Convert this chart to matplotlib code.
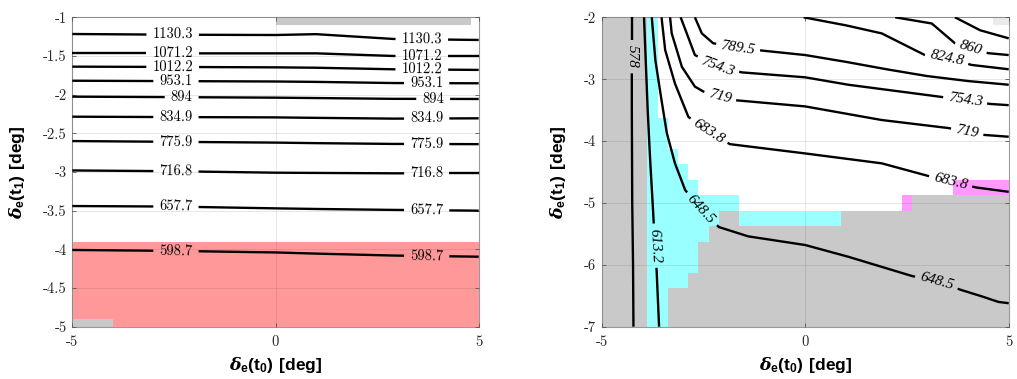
import numpy as np
import matplotlib
matplotlib.use('Agg')
import matplotlib.pyplot as plt
from matplotlib.colors import ListedColormap, BoundaryNorm

plt.rcParams['axes.unicode_minus'] = False
plt.rcParams['mathtext.fontset'] = 'custom'
plt.rcParams['mathtext.rm'] = 'Liberation Sans:bold'
plt.rcParams['mathtext.bf'] = 'Liberation Sans:bold'
plt.rcParams['mathtext.it'] = 'DejaVu Serif:italic:bold'

# ----------------------------- data: left panel -----------------------------
L_xlim = (-5, 5)
L_ylim = (-5, -1)
L_xticks = [-5, 0, 5]
L_xticklabels = ['-5', '0', '5']
L_yticks = [-5, -4.5, -4, -3.5, -3, -2.5, -2, -1.5, -1]
L_yticklabels = ['-5', '-4.5', '-4', '-3.5', '-3', '-2.5', '-2', '-1.5', '-1']

L_levels = ['598.7', '657.7', '716.8', '775.9', '834.9', '894', '953.1',
            '1012.2', '1071.2', '1130.3']
L_line_x = [-5, -2.5, 0, 1.0, 2.9, 5]
L_line_y = [
    [-4.008, -4.02, -4.04, -4.055, -4.08, -4.095],
    [-3.44, -3.447, -3.47, -3.478, -3.49, -3.50],
    [-2.98, -2.99, -3.009, -3.012, -3.017, -3.017],
    [-2.60, -2.61, -2.62, -2.627, -2.637, -2.64],
    [-2.285, -2.29, -2.294, -2.30, -2.31, -2.306],
    [-2.026, -2.032, -2.039, -2.044, -2.054, -2.056],
    [-1.82, -1.825, -1.83, -1.835, -1.85, -1.853],
    [-1.638, -1.642, -1.647, -1.652, -1.672, -1.68],
    [-1.466, -1.466, -1.466, -1.466, -1.50, -1.50],
    [-1.216, -1.225, -1.229, -1.218, -1.28, -1.293],
]
L_label_x = [
    [-2.45, 3.72], [-2.45, 3.72], [-2.45, 3.72], [-2.45, 3.72], [-2.45, 3.72],
    [-2.31, 3.88], [-2.45, 3.72], [-2.53, 3.60], [-2.53, 3.60], [-2.53, 3.60],
]
# shaded regions (x0, x1, y0, y1)
L_red_region = (-5, 5, -5, -3.9)
L_gray_regions = [(0.0, 4.82, -1.1, -1.0), (-5.0, -4.0, -5.0, -4.9)]

# ----------------------------- data: right panel ----------------------------
R_xlim = (-5, 5)
R_ylim = (-7, -2)
R_xticks = [-5, 0, 5]
R_xticklabels = ['-5', '0', '5']
R_yticks = [-7, -6, -5, -4, -3, -2]
R_yticklabels = ['-7', '-6', '-5', '-4', '-3', '-2']

# cell map: x centres -5..5 step 0.25, y centres -2..-7 step 0.25 (top row first)
R_cell_x = np.arange(-5, 5.001, 0.25)
R_cell_y = np.arange(-2, -7.001, -0.25)
R_cell_rows = [
    "g5 c1 .33 l2",
    "g5 c1 .35", "g5 c1 .35", "g5 c1 .35", "g5 c1 .35", "g5 c1 .35", "g5 c1 .35",
    "g5 c2 .34", "g5 c2 .34",
    "g5 c3 .33",
    "g5 c4 .32",
    "g5 c5 .25 m6",
    "g5 c9 .16 m1 g10",
    "g5 c7 g2 c10 g17",
    "g5 c6 g30",
    "g5 c5 g31", "g5 c5 g31",
    "g5 c4 g32",
    "g5 c2 g34", "g5 c2 g34", "g5 c2 g34",
]
R_cell_codes = {'g': 0, 'c': 1, 'm': 2, 'l': 3}
R_cell_colors = ['#c9c9c9', '#99ffff', '#ff99ff', '#ebebeb']

R_levels = ['578', '613.2', '648.5', '683.8', '719', '754.3', '789.5',
            '824.8', '860', '895.3']
R_line_x = [
    [-4.26, -4.26, -4.25, -4.23, -4.22],
    [-3.96, -3.87, -3.81, -3.74, -3.70, -3.65, -3.59],
    [-3.77, -3.68, -3.53, -3.40, -3.20, -2.95, -2.56, -2.12, -1.40, 0.0, 1.06,
     2.62, 3.23, 3.85, 4.34, 4.75, 5.0],
    [-3.53, -3.44, -3.20, -2.87, -2.38, -1.85, 0.0, 1.88, 3.0, 3.57, 4.20, 5.0],
    [-3.32, -3.28, -3.03, -2.71, -2.50, -2.09, -1.72, 0.0, 1.88, 3.52, 3.98,
     4.38, 5.0],
    [-3.06, -2.91, -2.71, -2.15, -1.56, 0.0, 1.06, 3.27, 3.93, 4.54, 5.0],
    [-2.71, -2.54, -2.26, -1.65, -1.03, 0.0, 1.0, 2.0, 3.0, 4.0, 5.0],
    [-0.04, 1.0, 1.88, 2.94, 3.48, 4.09, 5.0],
    [2.21, 3.11, 3.68, 4.07, 4.50, 5.0],
    [3.68, 4.30, 5.0],
]
R_line_y = [
    [-2, -3.5, -5, -6, -7],
    [-2, -3.5, -4.3, -5.1, -5.6, -6.1, -7],
    [-2, -2.7, -3.34, -3.87, -4.36, -4.79, -5.11, -5.39, -5.54, -5.68, -5.87,
     -6.18, -6.27, -6.41, -6.51, -6.60, -6.62],
    [-2, -2.53, -3.07, -3.61, -3.85, -4.05, -4.20, -4.36, -4.56, -4.66, -4.75,
     -4.82],
    [-2, -2.26, -2.80, -3.12, -3.20, -3.28, -3.34, -3.44, -3.66, -3.79, -3.85,
     -3.90, -3.93],
    [-2, -2.26, -2.61, -2.79, -2.89, -2.97, -3.09, -3.28, -3.34, -3.40, -3.42],
    [-2, -2.26, -2.42, -2.49, -2.54, -2.61, -2.72, -2.84, -2.95, -3.03, -3.09],
    [-2, -2.13, -2.26, -2.61, -2.66, -2.77, -2.84],
    [-2, -2.10, -2.42, -2.50, -2.58, -2.61],
    [-2, -2.21, -2.34],
]
R_label_pts = [
    [(-4.26, -2.64)],
    [(-3.68, -5.69)],
    [(-2.56, -5.11), (3.23, -6.27)],
    [(-2.38, -3.85), (3.57, -4.66)],
    [(-2.09, -3.28), (3.98, -3.85)],
    [(-2.15, -2.79), (3.93, -3.34)],
    [(-1.65, -2.49)],
    [(3.48, -2.66)],
    [(4.07, -2.50)],
    [],
]

XLABEL = r'$\delta_{\mathbf{e}}\mathbf{(t_0)\ [deg]}$'
L_YLABEL = r'$\delta_{\mathbf{e}}\mathbf{(t_1)\ [deg]}$'
R_YLABEL = r'$\delta_{\mathbf{e}}\mathbf{(t_1)\ [deg]}$'

# ----------------------------- drawing helpers ------------------------------
TICK_COLOR = '#262626'
FRAME_COLOR = '#9a9a9a'


def style_axes(ax, xlim, ylim, xt, xtl, yt, ytl):
    ax.set_xlim(*xlim)
    ax.set_ylim(*ylim)
    ax.set_xticks(xt, xtl, fontfamily='cmr10', fontsize=10.5, color=TICK_COLOR)
    ax.set_yticks(yt, ytl, fontfamily='cmr10', fontsize=10.5, color=TICK_COLOR)
    ax.tick_params(direction='in', length=3, width=0.6, color='#555555',
                   top=True, right=True)
    ax.tick_params(axis='x', pad=6)
    ax.tick_params(axis='y', pad=4)
    for sp in ax.spines.values():
        sp.set_color(FRAME_COLOR)
        sp.set_linewidth(0.8)
    ax.grid(True, color='#262626', alpha=0.13, lw=0.6)
    ax.set_axisbelow(False)


def labeled_line(ax, xs, ys, label_pts, text, font, pad=5.0):
    renderer = ax.figure.canvas.get_renderer()
    P = ax.transData.transform(np.column_stack([xs, ys]))
    seg = np.diff(P, axis=0)
    seglen = np.hypot(seg[:, 0], seg[:, 1])
    s = np.concatenate([[0.0], np.cumsum(seglen)])
    total = s[-1]

    def point_at(sv):
        sv = min(max(sv, 0.0), total)
        k = int(np.clip(np.searchsorted(s, sv) - 1, 0, len(seg) - 1))
        t = (sv - s[k]) / seglen[k] if seglen[k] > 0 else 0.0
        return P[k] + t * seg[k]

    gaps = []
    for (lx, ly) in label_pts:
        q = ax.transData.transform((lx, ly))
        best = None
        for i in range(len(seg)):
            d = seg[i]
            L2 = seglen[i] ** 2
            t = np.clip(np.dot(q - P[i], d) / L2, 0, 1) if L2 > 0 else 0.0
            proj = P[i] + t * d
            dist = np.hypot(*(q - proj))
            if best is None or dist < best[0]:
                best = (dist, i, t, proj)
        _, i, t, proj = best
        s0 = s[i] + t * seglen[i]
        pos = ax.transData.inverted().transform(proj)
        txt = ax.text(pos[0], pos[1], text, ha='center', va='center',
                      rotation_mode='anchor', zorder=5, **font)
        w = txt.get_window_extent(renderer).width
        p1 = point_at(s0 - w / 2)
        p2 = point_at(s0 + w / 2)
        ang = np.degrees(np.arctan2(p2[1] - p1[1], p2[0] - p1[0]))
        if ang > 89.5:
            ang -= 180
        if ang <= -90.5:
            ang += 180
        txt.set_rotation(ang)
        gaps.append((s0 - w / 2 - pad, s0 + w / 2 + pad))

    gaps.sort()
    intervals = []
    start = 0.0
    for a, b in gaps:
        if a > start:
            intervals.append((start, a))
        start = max(start, b)
    if start < total:
        intervals.append((start, total))
    inv = ax.transData.inverted()
    for a, b in intervals:
        pts = [point_at(a)] + [P[k] for k in range(len(s)) if a < s[k] < b] + [point_at(b)]
        D = inv.transform(np.array(pts))
        ax.plot(D[:, 0], D[:, 1], color='black', lw=1.7, zorder=4,
                solid_capstyle='butt')


# ----------------------------- figure ---------------------------------------
fig = plt.figure(figsize=(10.17, 3.79), dpi=100)
axL = fig.add_axes([72.3 / 1017, 52.3 / 379, 406.4 / 1017, 309.4 / 379])
axR = fig.add_axes([601.7 / 1017, 52.3 / 379, 407.0 / 1017, 309.4 / 379])

style_axes(axL, L_xlim, L_ylim, L_xticks, L_xticklabels, L_yticks, L_yticklabels)
style_axes(axR, R_xlim, R_ylim, R_xticks, R_xticklabels, R_yticks, R_yticklabels)

# left panel regions
x0, x1, y0, y1 = L_red_region
axL.fill([x0, x1, x1, x0], [y0, y0, y1, y1], color='#ff9999', lw=0, zorder=0.5)
for (x0, x1, y0, y1) in L_gray_regions:
    axL.fill([x0, x1, x1, x0], [y0, y0, y1, y1], color='#c9c9c9', lw=0, zorder=0.6)

font_left = dict(fontfamily='cmr10', fontsize=10.5, color='black')
for lev, ys, lxs in zip(L_levels, L_line_y, L_label_x):
    pts = [(lx, np.interp(lx, L_line_x, ys)) for lx in lxs]
    labeled_line(axL, L_line_x, ys, pts, lev, font_left, pad=6)

# right panel cell map
grid = np.full((len(R_cell_y), len(R_cell_x)), np.nan)
for j, row in enumerate(R_cell_rows):
    i = 0
    for tok in row.split():
        code, n = tok[0], int(tok[1:])
        if code in R_cell_codes:
            grid[j, i:i + n] = R_cell_codes[code]
        i += n
    assert i == len(R_cell_x)
cmap = ListedColormap(R_cell_colors)
norm = BoundaryNorm([-0.5, 0.5, 1.5, 2.5, 3.5], cmap.N)
axR.pcolormesh(R_cell_x, R_cell_y, np.ma.masked_invalid(grid), cmap=cmap,
               norm=norm, shading='nearest', zorder=0.5)

font_right = dict(fontfamily='Liberation Serif', fontstyle='italic',
                  fontsize=11, color='black')
for lev, xs, ys, lp in zip(R_levels, R_line_x, R_line_y, R_label_pts):
    labeled_line(axR, xs, ys, lp, lev, font_right, pad=5)

# axis labels
for ax, yl in ((axL, L_YLABEL), (axR, R_YLABEL)):
    ax.set_xlabel(XLABEL, fontsize=12.5, color='black')
    ax.xaxis.set_label_coords(0.5, -0.092)
    ax.set_ylabel(yl, fontsize=12.5, color='black')

axL.yaxis.set_label_coords(-0.112, 0.5)
axR.yaxis.set_label_coords(-0.083, 0.5)

fig.savefig('out.png', dpi=100)
